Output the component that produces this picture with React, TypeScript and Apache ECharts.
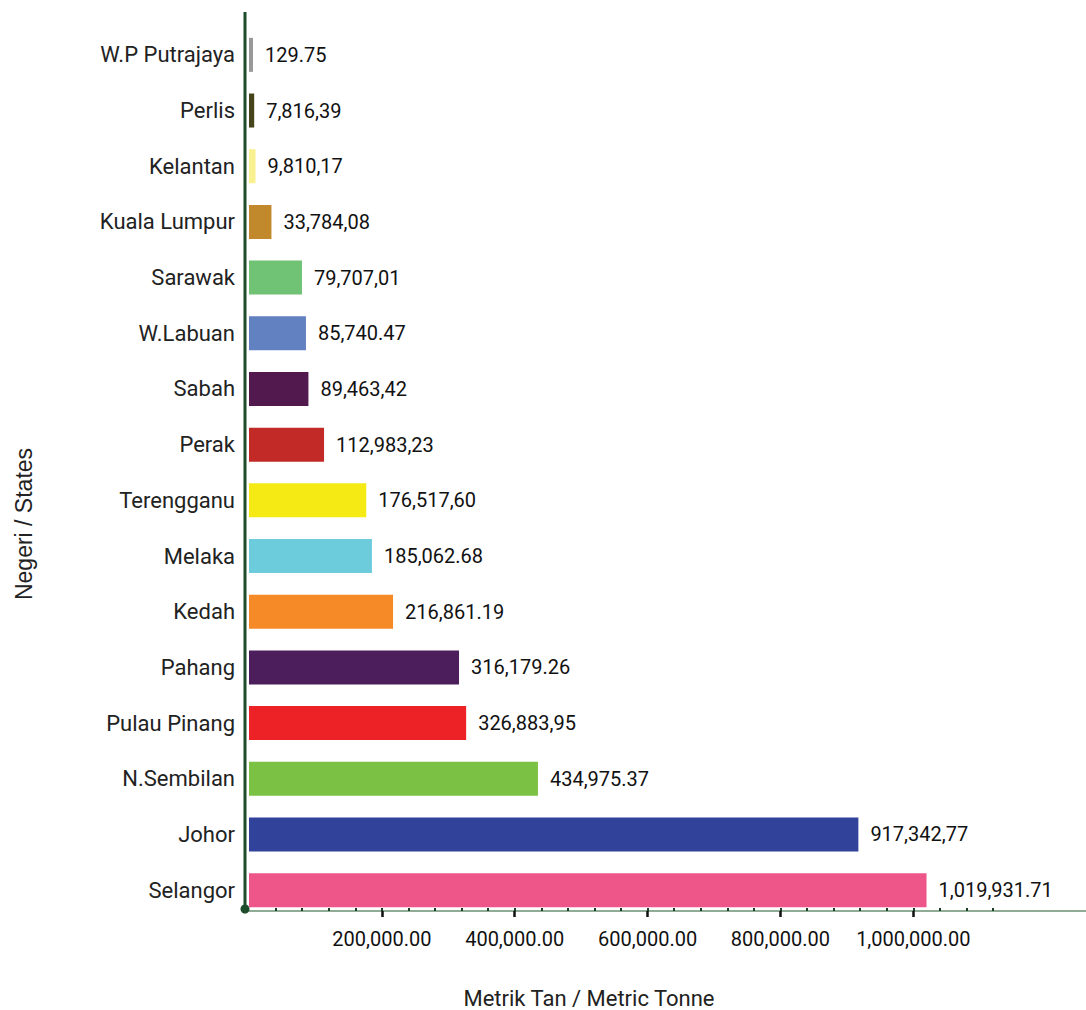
import React, { useEffect, useRef } from "react";
import * as echarts from "echarts";

const categories = [
  "W.P Putrajaya", "Perlis", "Kelantan", "Kuala Lumpur", "Sarawak", "W.Labuan", "Sabah", "Perak",
  "Terengganu", "Melaka", "Kedah", "Pahang", "Pulau Pinang", "N.Sembilan", "Johor", "Selangor",
];
const values = [
  129.75, 7816.39, 9810.17, 33784.08, 79707.01, 85740.47, 89463.42, 112983.23,
  176517.6, 185062.68, 216861.19, 316179.26, 326883.95, 434975.37, 917342.77, 1019931.71,
];
const valueLabels = [
  "129.75", "7,816,39", "9,810,17", "33,784,08", "79,707,01", "85,740.47", "89,463,42", "112,983,23",
  "176,517,60", "185,062.68", "216,861.19", "316,179.26", "326,883,95", "434,975.37", "917,342,77", "1,019,931.71",
];
const barColors = [
  "#999999", "#45441a", "#f9f08f", "#c1882c", "#70c274", "#6281c1", "#52194f", "#c22a28",
  "#f5ea14", "#6cccdc", "#f58a27", "#4c1f5c", "#ec2227", "#7bc143", "#30429a", "#ee5589",
];
const majorTicks = [200000, 400000, 600000, 800000, 1000000];
const majorTickLabels = ["200,000.00", "400,000.00", "600,000.00", "800,000.00", "1,000,000.00"];
const minorTicks = [
  40000, 80000, 120000, 160000, 200000, 240000, 280000, 320000, 360000, 400000,
  440000, 480000, 520000, 560000, 600000, 640000, 680000, 720000, 760000, 800000,
  840000, 880000, 920000, 960000, 1000000, 1040000, 1080000, 1120000,
];
const xName = "Metrik Tan / Metric Tonne";
const yName = "Negeri / States";

const font = "Roboto, sans-serif";

export default function App() {
  const ref = useRef<HTMLDivElement>(null);
  useEffect(() => {
    if (!ref.current) return;
    const chart = echarts.init(ref.current, null, { renderer: "svg" });
    const xMax = 1260000;
    chart.setOption({
      animation: false,
      backgroundColor: "#ffffff",
      grid: { left: 249, right: 0, top: 27, bottom: 92, containLabel: false },
      xAxis: [
        {
          type: "value",
          position: "bottom",
          offset: -7,
          min: 0,
          max: xMax,
          interval: 200000,
          splitLine: { show: false },
          axisLine: { show: true, lineStyle: { color: "#6b8f73", width: 1.5 } },
          axisTick: {
            show: true,
            customValues: majorTicks,
            length: 6,
            lineStyle: { color: "#111111", width: 2.5 },
          },
          axisLabel: {
            customValues: majorTicks,
            formatter: (v: number) => {
              const i = majorTicks.indexOf(v);
              return i >= 0 ? majorTickLabels[i] : "";
            },
            margin: 18,
            color: "#111111",
            fontFamily: font,
            fontSize: 20,
          },
        },
        {
          type: "value",
          position: "bottom",
          offset: -7,
          min: 0,
          max: xMax,
          interval: 200000,
          splitLine: { show: false },
          axisLine: { show: false },
          axisTick: {
            show: true,
            inside: true,
            customValues: minorTicks,
            length: 3,
            lineStyle: { color: "#1a3d25", width: 2 },
          },
          axisLabel: { show: false },
        },
      ],
      yAxis: {
        type: "category",
        data: categories,
        inverse: true,
        axisLine: { show: false },
        axisTick: { show: false },
        axisLabel: {
          margin: 14,
          color: "#222222",
          fontFamily: font,
          fontSize: 22,
        },
      },
      graphic: [
        {
          type: "line",
          shape: { x1: 245, y1: 12, x2: 245, y2: 910 },
          style: { stroke: "#1e4d2b", lineWidth: 3 },
          z: 10,
        },
        {
          type: "circle",
          shape: { cx: 245, cy: 909, r: 4.5 },
          style: { fill: "#1e4d2b" },
          z: 11,
        },
        {
          type: "text",
          x: 589,
          y: 998,
          style: {
            text: xName,
            fill: "#222222",
            font: "22px Roboto, sans-serif",
            textAlign: "center",
            textVerticalAlign: "middle",
          },
        },
        {
          type: "text",
          x: 24,
          y: 524,
          rotation: Math.PI / 2,
          style: {
            text: yName,
            fill: "#222222",
            font: "23px 'Liberation Sans', Arial, sans-serif",
            textAlign: "center",
            textVerticalAlign: "middle",
          },
        },
      ],
      series: [
        {
          type: "bar",
          xAxisIndex: 0,
          data: values.map((v, i) => ({ value: v, itemStyle: { color: barColors[i] } })),
          barWidth: 34,
          barMinHeight: 4,
          label: {
            show: true,
            position: "right",
            distance: 12,
            color: "#111111",
            fontFamily: font,
            fontSize: 20,
            formatter: (p: any) => valueLabels[p.dataIndex],
          },
        },
      ],
    });
    return () => chart.dispose();
  }, []);
  return (
    <div
      ref={ref}
      style={{ position: "absolute", left: 0, top: 0, width: 1086, height: 1010 }}
    />
  );
}
